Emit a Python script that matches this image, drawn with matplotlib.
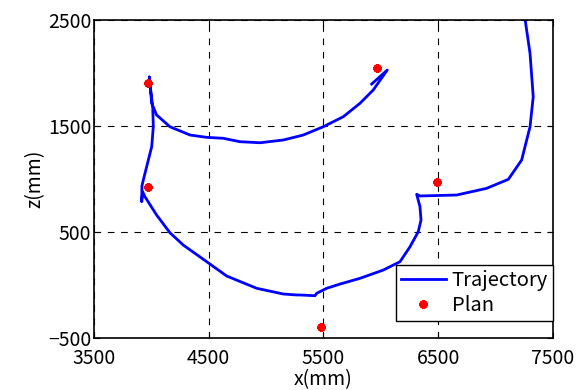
import numpy as np
import matplotlib
matplotlib.use("Agg")
import matplotlib.pyplot as plt

plt.rcParams['font.family'] = ['Noto Sans CJK JP', 'DejaVu Sans']
plt.rcParams['axes.unicode_minus'] = True

# measured trajectory (mm)
traj_x = [7255, 7300, 7328, 7300, 7227, 7111, 6922, 6661, 6341, 6312, 6341, 6350,
          6326, 6254, 6167, 6021, 5818, 5644, 5528, 5441, 5426, 5295, 5267, 5150,
          4918, 4656, 4482, 4278, 4162, 4046, 3944, 3924, 3916, 3918, 3930, 3959,
          4003, 4017, 4012, 3994, 3982, 4003, 4046, 4162, 4337, 4482, 4627, 4772,
          4947, 5150, 5324, 5498, 5673, 5818, 5934, 6056, 5920]
traj_z = [2520, 2186, 1776, 1493, 1179, 997, 912, 849, 840, 856, 739, 613,
          503, 361, 220, 141, 63, 9, -31, -78, -101, -94, -94, -85,
          -31, 85, 220, 377, 493, 660, 833, 880, 786, 934, 991, 1116,
          1305, 1493, 1682, 1840, 1965, 1714, 1604, 1493, 1415, 1393, 1384, 1352,
          1342, 1368, 1415, 1493, 1588, 1714, 1840, 2028, 1896]

# planned points (mm)
plan_x = [3975, 3975, 5480, 5965, 6490]
plan_z = [1910, 925, -400, 2045, 975]

xticks = [3500, 4500, 5500, 6500, 7500]
zticks = [-500, 500, 1500, 2500]

fig = plt.figure(figsize=(5.78, 3.9), dpi=100)
ax = fig.add_axes([0.1626, 0.1333, 0.7941, 0.8154])

ax.plot(traj_x, traj_z, color='#0000ff', lw=2, label='Trajectory')
ax.plot(plan_x, plan_z, ls='none', marker=(8, 2, 0), color='red',
        ms=6, mew=1.8, label='Plan')

ax.set_xlim(3500, 7500)
ax.set_ylim(-500, 2500)
ax.set_xticks(xticks)
ax.set_yticks(zticks)
ax.tick_params(direction='in', top=True, right=True, labelsize=14, length=4)
ax.tick_params(axis='x', pad=7)
ax.tick_params(axis='y', pad=2)
ax.grid(True, color='black', ls=(0, (6, 6)), lw=0.8)
for s in ax.spines.values():
    s.set_linewidth(1.2)

ax.set_xlabel('x(mm)', fontsize=14, labelpad=0)
ax.set_ylabel('z(mm)', fontsize=14, labelpad=2)

leg = ax.legend(loc='lower right', bbox_to_anchor=(1.0, 0.053), fancybox=False,
                edgecolor='black', framealpha=1, fontsize=14.5, borderaxespad=0,
                handlelength=2.2, handletextpad=0.3, borderpad=0.25,
                labelspacing=0.2)
leg.get_frame().set_linewidth(1.0)

fig.savefig('out.png', dpi=100)
